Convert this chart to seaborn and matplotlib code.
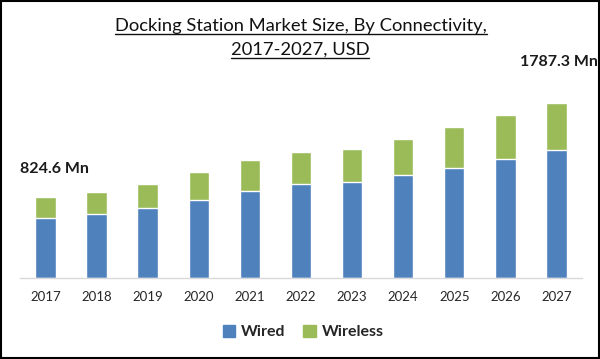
import pandas as pd
import seaborn as sns
import matplotlib.pyplot as plt
from matplotlib.patches import Patch
from matplotlib.lines import Line2D

# values (USD Mn)
years = ["2017", "2018", "2019", "2020", "2021", "2022",
         "2023", "2024", "2025", "2026", "2027"]
wired = [611, 652, 713, 795, 890, 958, 978, 1050, 1121, 1213, 1304]
wireless = [213.6, 224, 245, 285, 312, 332, 343, 373, 418, 448, 483.3]
first_label = "824.6 Mn"
last_label = "1787.3 Mn"

BLUE = "#4f81bd"
GREEN = "#9bbb59"

sns.set_theme(style="white")
plt.rcParams['font.family'] = ['Lato', 'DejaVu Sans']

df = pd.DataFrame({"year": years, "Wired": wired, "Wireless": wireless})
df["total"] = df["Wired"] + df["Wireless"]

fig = plt.figure(figsize=(6, 3.59), dpi=100)
ax = fig.add_axes([0.0333, 0.2248, 0.9367, 0.5248])

# stacked bars: totals first (green), wired over them (blue)
sns.barplot(data=df, x="year", y="total", color=GREEN, width=0.4,
            saturation=1, ax=ax)
sns.barplot(data=df, x="year", y="Wired", color=BLUE, width=0.4,
            saturation=1, ax=ax)

ax.set_ylim(0, 1920)
ax.set_xlim(-0.5, len(years) - 0.5)
ax.set_xlabel("")
ax.set_ylabel("")
ax.set_yticks([])
for s in ["top", "right", "left"]:
    ax.spines[s].set_visible(False)
ax.spines["bottom"].set_color("#d9d9d9")
ax.spines["bottom"].set_linewidth(1)
ax.tick_params(axis="x", length=0, pad=9, labelsize=9.5, labelcolor="#262626")

# title, underlined
t1 = fig.text(0.501, 0.915, "Docking Station Market Size, By Connectivity,",
              ha="center", va="baseline", fontsize=13.2, color="#111111")
t2 = fig.text(0.5, 0.847, "2017-2027, USD",
              ha="center", va="baseline", fontsize=13.2, color="#111111")

fig.text(0.033, 0.528, first_label, ha="left", va="center",
         fontsize=11.5, fontweight="bold", color="#1a1a1a")
fig.text(0.997, 0.827, last_label, ha="right", va="center",
         fontsize=11.5, fontweight="bold", color="#1a1a1a")

handles = [Patch(color=BLUE, label="Wired"), Patch(color=GREEN, label="Wireless")]
leg = fig.legend(handles=handles, loc="center", bbox_to_anchor=(0.505, 0.075),
                 ncol=2, frameon=False, handlelength=0.8, handleheight=0.8,
                 handletextpad=0.35, columnspacing=1.1,
                 prop={"weight": "bold", "size": 11.5})

fig.canvas.draw()
r = fig.canvas.get_renderer()
W, H = fig.bbox.width, fig.bbox.height
for t in (t1, t2):
    bb = t.get_window_extent(r)
    x0, y0 = t.get_position()
    base = y0 - 3 / H
    fig.lines.append(Line2D([bb.x0 / W, bb.x1 / W], [base, base],
                            transform=fig.transFigure, color="#111111", lw=1))

# frame around the picture
fig.patches.append(plt.Rectangle((0.002, 0.003), 0.996, 0.994, transform=fig.transFigure,
                                 fill=False, edgecolor="black", lw=1.5))

fig.savefig("out.png", dpi=100)
